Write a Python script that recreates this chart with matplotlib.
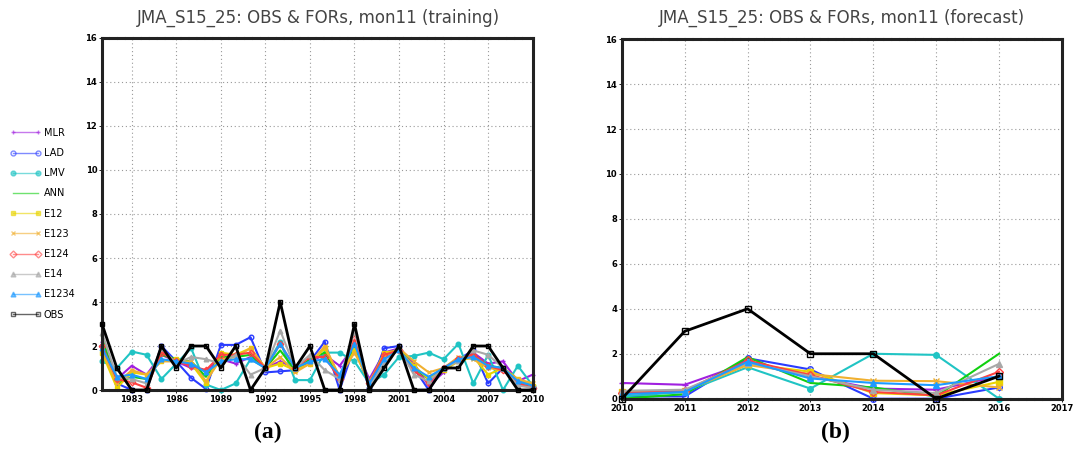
import numpy as np
import matplotlib.pyplot as plt

# ---- data ----
train_years = np.arange(1981, 2011)
fcst_years = np.arange(2010, 2017)

names = ["MLR", "LAD", "LMV", "ANN", "E12", "E123", "E124", "E14", "E1234", "OBS"]

mlr_tr = [2.2, 0.5, 1.1, 0.7, 1.6, 1.3, 1.0, 0.9, 1.4, 1.2, 1.5, 1.0, 1.3, 1.0, 1.3,
          1.6, 1.1, 2.0, 0.5, 1.7, 1.9, 1.2, 0.2, 0.8, 1.4, 1.7, 1.2, 1.3, 0.4, 0.7]
lad_tr = [2.0, 0.3, 0.0, 0.0, 2.0, 1.3, 0.55, 0.05, 2.05, 2.05, 2.4, 0.8, 0.85, 0.9, 1.3,
          2.2, 0.0, 2.0, 0.1, 1.9, 2.0, 1.0, 0.0, 1.0, 1.4, 1.8, 0.3, 1.0, 0.3, 0.1]
lmv_tr = [1.3, 1.0, 1.75, 1.6, 0.5, 1.2, 1.9, 0.25, 0.0, 0.3, 1.4, 1.0, 2.2, 0.45, 0.45,
          1.7, 1.7, 1.3, 0.3, 0.7, 1.5, 1.55, 1.7, 1.4, 2.1, 0.3, 1.6, 0.0, 1.1, 0.2]
ann_tr = [2.4, 0.3, 0.6, 0.5, 1.6, 1.4, 1.3, 0.6, 1.5, 1.5, 1.6, 1.0, 1.8, 0.9, 1.4,
          1.7, 0.6, 2.0, 0.3, 1.5, 1.9, 1.0, 0.5, 1.0, 1.4, 1.6, 1.1, 1.0, 0.4, 0.2]
e12_tr = [1.7, 0.1, 0.8, 0.7, 1.3, 1.4, 1.2, 0.3, 1.7, 1.6, 1.9, 1.0, 1.2, 0.9, 1.2,
          1.9, 0.6, 1.8, 0.3, 1.7, 1.8, 1.1, 0.5, 0.9, 1.3, 1.5, 0.7, 1.0, 0.5, 0.2]
e123_tr = [1.8, 0.3, 0.9, 0.7, 1.3, 1.3, 1.3, 0.4, 1.4, 1.5, 1.9, 1.0, 1.5, 0.8, 1.2,
           2.0, 0.6, 1.7, 0.4, 1.5, 1.9, 1.3, 0.8, 1.0, 1.5, 1.4, 1.0, 0.9, 0.5, 0.3]
e124_tr = [2.0, 0.5, 0.35, 0.1, 1.7, 1.3, 1.1, 0.9, 1.6, 1.6, 1.7, 1.0, 2.1, 1.0, 1.5,
           1.5, 0.5, 2.3, 0.3, 1.6, 1.8, 0.9, 0.3, 1.0, 1.4, 1.6, 1.1, 0.9, 0.3, 0.1]
e14_tr = [2.6, 0.6, 0.5, 0.3, 1.9, 1.2, 1.5, 1.4, 1.2, 1.6, 0.7, 1.0, 2.7, 1.0, 1.6,
          0.9, 0.5, 2.7, 0.2, 1.2, 1.9, 0.7, 0.4, 1.0, 1.3, 1.8, 1.6, 1.0, 0.2, 0.1]
e1234_tr = [1.9, 0.6, 0.7, 0.5, 1.4, 1.3, 1.2, 0.8, 1.3, 1.4, 1.4, 1.0, 2.1, 1.0, 1.3,
            1.4, 0.7, 2.1, 0.3, 1.4, 1.8, 1.0, 0.6, 1.0, 1.4, 1.5, 1.1, 1.0, 0.4, 0.2]
obs_tr = [3, 1, 0, 0, 2, 1, 2, 2, 1, 2, 0, 1, 4, 1, 2,
          0, 0, 3, 0, 1, 2, 0, 0, 1, 1, 2, 2, 1, 0, 0]

mlr_fc = [0.7, 0.62, 1.6, 1.0, 0.45, 0.4, 1.0]
lad_fc = [0.1, 0.1, 1.8, 1.3, 0.0, 0.0, 0.5]
lmv_fc = [0.1, 0.3, 1.4, 0.45, 2.0, 1.95, 0.0]
ann_fc = [0.0, 0.2, 1.85, 0.7, 0.5, 0.1, 2.0]
e12_fc = [0.3, 0.35, 1.55, 1.2, 0.25, 0.15, 0.75]
e123_fc = [0.3, 0.35, 1.5, 1.1, 0.8, 0.78, 0.5]
e124_fc = [0.25, 0.35, 1.7, 1.05, 0.3, 0.15, 1.2]
e14_fc = [0.35, 0.4, 1.6, 1.0, 0.4, 0.25, 1.55]
e1234_fc = [0.2, 0.3, 1.65, 0.9, 0.7, 0.6, 1.0]
obs_fc = [0, 3, 4, 2, 2, 0, 1]

train = [mlr_tr, lad_tr, lmv_tr, ann_tr, e12_tr, e123_tr, e124_tr, e14_tr, e1234_tr, obs_tr]
fcst = [mlr_fc, lad_fc, lmv_fc, ann_fc, e12_fc, e123_fc, e124_fc, e14_fc, e1234_fc, obs_fc]

# colour, marker, markerfacecolor
styles = [
    ("#a020e0", "+", None),
    ("#2a3cff", "o", "none"),
    ("#20c4c4", "o", None),
    ("#10d010", "", None),
    ("#e8d400", "s", None),
    ("#f0b030", "x", None),
    ("#ff4040", "D", "none"),
    ("#a8a8a8", "^", None),
    ("#1e9aff", "^", None),
    ("#000000", "s", "none"),
]


def style_axes(ax, xlim, xticks):
    ax.set_xlim(*xlim)
    ax.set_ylim(0, 16)
    ax.set_xticks(xticks)
    ax.set_yticks(np.arange(0, 17, 2))
    ax.tick_params(labelsize=6, length=2, width=0.6, pad=1.5)
    for lab in ax.get_xticklabels() + ax.get_yticklabels():
        lab.set_fontweight("bold")
    ax.grid(True, linestyle=(0, (1, 2.5)), linewidth=0.8, color="#999999")
    ax.set_axisbelow(True)
    for side in ["left", "right"]:
        ax.spines[side].set_linewidth(2.2)
        ax.spines[side].set_color("#222222")
    for side in ["top", "bottom"]:
        ax.spines[side].set_linewidth(2.2)
        ax.spines[side].set_linestyle((0, (2, 0.6)))
        ax.spines[side].set_color("#222222")


def draw(ax, years, series, ms):
    handles = []
    for vals, (c, m, mfc), name in zip(series, styles, names):
        lw = 2.0 if name == "OBS" else 1.5
        kw = dict(color=c, lw=lw, marker=m if m else None, ms=ms, mew=1.0,
                  label=name, clip_on=False, zorder=3 if name == "OBS" else 2)
        if mfc is not None:
            kw["mfc"] = mfc
        (ln,) = ax.plot(years, vals, **kw)
        handles.append(ln)
    return handles


fig = plt.figure(figsize=(10.74, 4.5), dpi=100)
ax1 = fig.add_axes([0.095, 0.1333, 0.401, 0.7823])
ax2 = fig.add_axes([0.579, 0.114, 0.4097, 0.799])

handles = draw(ax1, train_years, train, 3.3)
draw(ax2, fcst_years, fcst, 4)

style_axes(ax1, (1981, 2010), np.arange(1983, 2011, 3))
style_axes(ax2, (2010, 2017), np.arange(2010, 2018, 1))

fig.text(318 / 1074, 1 - 18 / 450, "JMA_S15_25: OBS & FORs, mon11 (training)",
         ha="center", va="center", fontsize=12, color="#444444")
fig.text(842 / 1074, 1 - 18 / 450, "JMA_S15_25: OBS & FORs, mon11 (forecast)",
         ha="center", va="center", fontsize=12, color="#444444")

fig.text(268 / 1074, 1 - 432 / 450, "(a)", ha="center", va="center",
         fontsize=17, fontweight="bold", family="Liberation Serif")
fig.text(835 / 1074, 1 - 432 / 450, "(b)", ha="center", va="center",
         fontsize=17, fontweight="bold", family="Liberation Serif")

leg = fig.legend(handles=handles, loc="upper left", bbox_to_anchor=(0.009, 0.716),
                 frameon=False, fontsize=7, labelspacing=1.05, handlelength=3.2,
                 handletextpad=0.3, borderaxespad=0, borderpad=0, numpoints=2)
for ln in leg.get_lines():
    ln.set_linewidth(1.0)
    ln.set_alpha(0.6)
    ln.set_markersize(3.5)

fig.savefig("out.png", dpi=100)
